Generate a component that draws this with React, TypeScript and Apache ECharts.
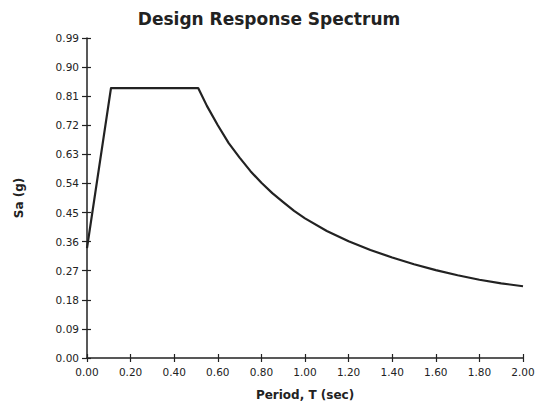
import React, { useEffect, useRef } from "react";
import * as echarts from "echarts";

const periods = [0.0, 0.11, 0.51, 0.55, 0.6, 0.65, 0.7, 0.75, 0.8, 0.85, 0.9, 0.95, 1.0, 1.1, 1.2, 1.3, 1.4, 1.5, 1.6, 1.7, 1.8, 1.9, 2.0];
const saValues = [0.34, 0.835, 0.835, 0.78, 0.72, 0.665, 0.62, 0.578, 0.542, 0.51, 0.482, 0.455, 0.432, 0.393, 0.361, 0.334, 0.311, 0.29, 0.272, 0.256, 0.242, 0.231, 0.222];
const chartTitle = "Design Response Spectrum";
const xName = "Period, T (sec)";
const yName = "Sa (g)";

const FONT = "DejaVu Sans";
const INK = "#222";

export default function App() {
  const ref = useRef<HTMLDivElement>(null);
  useEffect(() => {
    if (!ref.current) return;
    const chart = echarts.init(ref.current, undefined, { renderer: "svg" });
    const data = periods.map((t, i) => [t, saValues[i]]);
    const xBase = {
      type: "value",
      min: 0,
      max: 2,
      interval: 0.2,
      splitLine: { show: false },
    };
    const yBase = {
      type: "value",
      min: 0,
      max: 0.99,
      interval: 0.09,
      splitLine: { show: false },
    };
    chart.setOption({
      animation: false,
      backgroundColor: "#fff",
      title: {
        text: chartTitle,
        left: 264,
        textAlign: "center",
        top: 5,
        textStyle: { fontFamily: FONT, fontWeight: "bold", fontSize: 17, color: INK },
      },
      grid: { left: 87, right: 19, top: 38, bottom: 55 },
      xAxis: [
        {
          ...xBase,
          name: xName,
          nameLocation: "middle",
          nameGap: 31,
          nameTextStyle: { fontFamily: FONT, fontWeight: "bold", fontSize: 12, color: INK },
          axisLine: { show: true, lineStyle: { color: INK, width: 1.5 } },
          axisTick: { show: true, length: 4, lineStyle: { color: INK, width: 1.2 } },
          axisLabel: {
            fontFamily: FONT,
            fontSize: 10.5,
            color: INK,
            margin: 8,
            formatter: (v: number) => v.toFixed(2),
          },
        },
        {
          ...xBase,
          position: "bottom",
          axisLine: { show: false },
          axisTick: { show: true, inside: true, length: 4, lineStyle: { color: INK, width: 1.2 } },
          axisLabel: { show: false },
        },
      ],
      yAxis: [
        {
          ...yBase,
          name: yName,
          nameLocation: "middle",
          nameGap: 62,
          nameRotate: 90,
          nameTextStyle: { fontFamily: FONT, fontWeight: "bold", fontSize: 12, color: INK },
          axisLine: { show: true, lineStyle: { color: INK, width: 1.5 } },
          axisTick: { show: true, length: 5, lineStyle: { color: INK, width: 1.2 } },
          axisLabel: {
            fontFamily: FONT,
            fontSize: 10.5,
            color: INK,
            margin: 8,
            formatter: (v: number) => v.toFixed(2),
          },
        },
        {
          ...yBase,
          position: "left",
          axisLine: { show: false },
          axisTick: { show: true, inside: true, length: 4, lineStyle: { color: INK, width: 1.2 } },
          axisLabel: { show: false },
        },
      ],
      series: [
        {
          type: "line",
          data,
          smooth: false,
          showSymbol: false,
          symbol: "none",
          lineStyle: { color: INK, width: 2.2, join: "round" },
          xAxisIndex: 0,
          yAxisIndex: 0,
        },
      ],
    });
    return () => chart.dispose();
  }, []);
  return <div ref={ref} style={{ width: 542, height: 413, position: "absolute", left: 0, top: 0 }} />;
}
